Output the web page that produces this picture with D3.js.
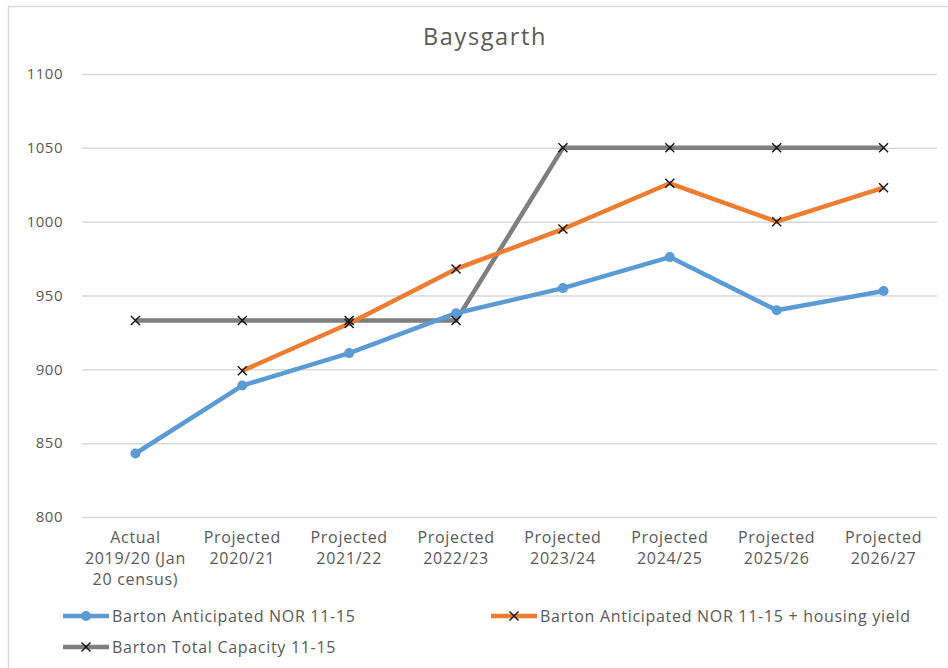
<!DOCTYPE html>
<html>
<head>
<meta charset="utf-8">
<script src="https://cdn.jsdelivr.net/npm/d3@7"></script>
<style>
  body { margin: 0; background: #fff; }
  text { font-family: "Open Sans", Lato, sans-serif; fill: #595959; }
</style>
</head>
<body>
<script>
// chart data
var categories = ["Actual|2019/20 (Jan|20 census)", "Projected|2020/21", "Projected|2021/22",
  "Projected|2022/23", "Projected|2023/24", "Projected|2024/25", "Projected|2025/26", "Projected|2026/27"];
var anticipated = [843, 889, 911, 938, 955, 976, 940, 953];
var withHousing = [null, 899, 931, 968, 995, 1026, 1000, 1023];
var capacity = [933, 933, 933, 933, 1050, 1050, 1050, 1050];
var yTicks = [800, 850, 900, 950, 1000, 1050, 1100];
var seriesNames = ["Barton Anticipated NOR 11-15", "Barton Anticipated NOR 11-15 + housing yield", "Barton Total Capacity 11-15"];

var svgWidth = 948;
var svgHeight = 668;

var margin = { top: 74, right: 11, bottom: 151, left: 82 };
var width = svgWidth - margin.left - margin.right;
var height = svgHeight - margin.top - margin.bottom;

var svg = d3.select("body")
  .append("svg")
  .attr("width", svgWidth)
  .attr("height", svgHeight);

// chart border (only top / left visible in the crop)
svg.append("path")
  .attr("d", "M8.5,668 V6.5 H948")
  .attr("fill", "none")
  .attr("stroke", "#d9d9d9")
  .attr("stroke-width", 1.5);

svg.append("text")
  .attr("x", 485)
  .attr("y", 45)
  .attr("text-anchor", "middle")
  .style("font-size", "23.5px")
  .style("letter-spacing", "1.6px")
  .text("Baysgarth");

var chartGroup = svg.append("g")
  .attr("transform", `translate(${margin.left}, ${margin.top})`);

var xScale = d3.scaleBand()
  .domain(d3.range(categories.length))
  .range([0, width]);

var yScale = d3.scaleLinear()
  .domain([800, 1100])
  .range([height, 0]);

// gridlines + y labels
var leftAxis = d3.axisLeft(yScale)
  .tickValues(yTicks)
  .tickFormat(d3.format("d"))
  .tickSize(-width)
  .tickPadding(19);

var yAxis = chartGroup.append("g").call(leftAxis);
yAxis.select(".domain").remove();
yAxis.selectAll("line").attr("stroke", "#d9d9d9").attr("stroke-width", 1.5);
yAxis.selectAll("text")
  .style("font-size", "15px")
  .style("letter-spacing", "0.5px")
  .attr("fill", "#595959")
  .style("font-family", "'Open Sans', sans-serif");

// x labels
var xLabels = chartGroup.append("g")
  .attr("transform", `translate(0, ${height})`);

categories.forEach(function(c, i) {
  var t = xLabels.append("text")
    .attr("x", xScale(i) + xScale.bandwidth() / 2)
    .attr("y", 26)
    .attr("text-anchor", "middle")
    .style("font-size", "16px")
    .style("letter-spacing", "0.7px");
  c.split("|").forEach(function(line, j) {
    t.append("tspan")
      .attr("x", xScale(i) + xScale.bandwidth() / 2)
      .attr("dy", j === 0 ? 0 : 21)
      .text(line);
  });
});

var cx = function(d, i) { return xScale(i) + xScale.bandwidth() / 2; };

var lineGen = d3.line()
  .defined(d => d != null)
  .x(cx)
  .y(d => yScale(d));

function drawCross(g, x, y) {
  var s = 4.5;
  g.append("path")
    .attr("d", `M${x - s},${y - s}L${x + s},${y + s}M${x - s},${y + s}L${x + s},${y - s}`)
    .attr("stroke", "#111")
    .attr("stroke-width", 1.4)
    .attr("fill", "none");
}

// grey capacity
chartGroup.append("path")
  .datum(capacity)
  .attr("d", lineGen)
  .attr("fill", "none")
  .attr("stroke", "#7f7f7f")
  .attr("stroke-width", 4.5)
  .attr("stroke-linejoin", "round");

// orange
chartGroup.append("path")
  .datum(withHousing)
  .attr("d", lineGen)
  .attr("fill", "none")
  .attr("stroke", "#ed7d31")
  .attr("stroke-width", 4.5)
  .attr("stroke-linejoin", "round");

// blue
chartGroup.append("path")
  .datum(anticipated)
  .attr("d", lineGen)
  .attr("fill", "none")
  .attr("stroke", "#5b9bd5")
  .attr("stroke-width", 4.5)
  .attr("stroke-linejoin", "round");

chartGroup.selectAll("circle.blue")
  .data(anticipated)
  .enter()
  .append("circle")
  .attr("cx", cx)
  .attr("cy", d => yScale(d))
  .attr("r", 5)
  .attr("fill", "#5b9bd5");

var markers = chartGroup.append("g");
withHousing.forEach(function(d, i) {
  if (d != null) drawCross(markers, cx(d, i), yScale(d));
});
capacity.forEach(function(d, i) {
  drawCross(markers, cx(d, i), yScale(d));
});

// legend
var legend = svg.append("g");
var legendItems = [
  { x: 63, y: 616, color: "#5b9bd5", marker: "circle", name: seriesNames[0] },
  { x: 491, y: 616, color: "#ed7d31", marker: "cross", name: seriesNames[1] },
  { x: 63, y: 647, color: "#7f7f7f", marker: "cross", name: seriesNames[2] }
];
legendItems.forEach(function(item) {
  legend.append("line")
    .attr("x1", item.x).attr("x2", item.x + 46)
    .attr("y1", item.y).attr("y2", item.y)
    .attr("stroke", item.color)
    .attr("stroke-width", 4.5);
  if (item.marker === "circle") {
    legend.append("circle")
      .attr("cx", item.x + 23).attr("cy", item.y).attr("r", 5)
      .attr("fill", item.color);
  } else {
    drawCross(legend, item.x + 23, item.y);
  }
  legend.append("text")
    .attr("x", item.x + 49)
    .attr("y", item.y + 5.5)
    .style("font-size", "16px")
    .style("letter-spacing", "0.7px")
    .text(item.name);
});
</script>
</body>
</html>
